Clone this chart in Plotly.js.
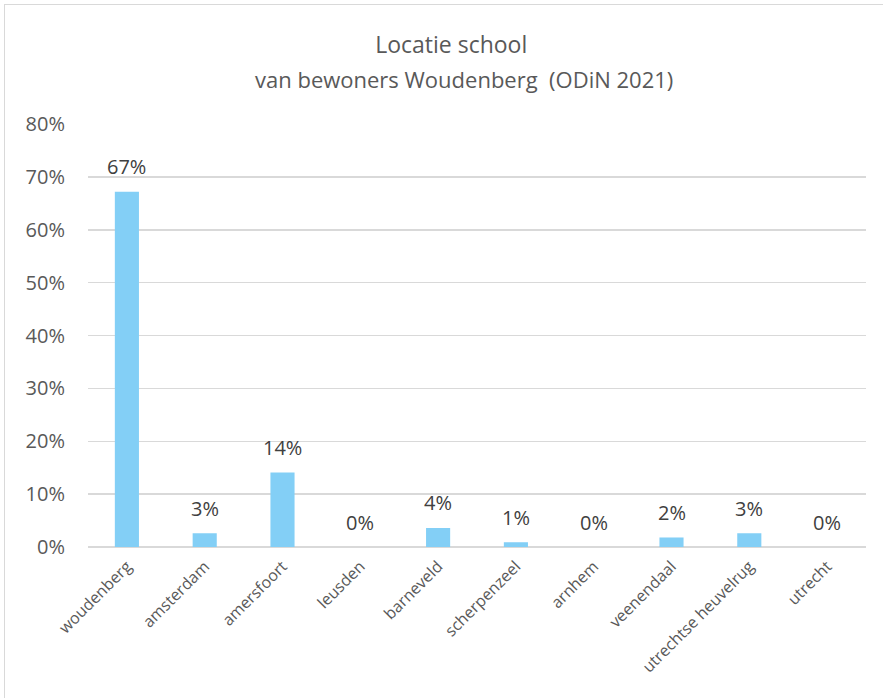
<!DOCTYPE html>
<html>
<head>
<meta charset="utf-8">
<script src="https://cdn.plot.ly/plotly-3.0.1.min.js"></script>
<style>
  html, body { margin: 0; padding: 0; background: #fff; }
  #wrap { position: relative; width: 883px; height: 698px; }
  #chart { position: absolute; left: 0; top: 0; width: 883px; height: 698px; }
  #frame { position: absolute; left: 4px; top: 4px; width: 900px; height: 720px;
           border-left: 1.5px solid #d9d9d9; border-top: 1.5px solid #d9d9d9; pointer-events: none; }
</style>
</head>
<body>
<div id="wrap"><div id="chart"></div><div id="frame"></div></div>
<script>
const titleLine1 = 'Locatie school';
const titleLine2 = 'van bewoners Woudenberg  (ODiN 2021)';
const categories = ['woudenberg', 'amsterdam', 'amersfoort', 'leusden', 'barneveld',
                    'scherpenzeel', 'arnhem', 'veenendaal', 'utrechtse heuvelrug', 'utrecht'];
const shares = [67.2, 2.6, 14.1, 0, 3.6, 0.9, 0, 1.8, 2.6, 0];
const yTickVals = [0, 10, 20, 30, 40, 50, 60, 70, 80];
const yTickText = yTickVals.map(v => v + '%');

const FONT = 'Open Sans, Noto Sans, sans-serif';

const labelAnnotations = categories.map((c, i) => ({
  x: c, y: shares[i], xref: 'x', yref: 'y',
  text: Math.round(shares[i]) + '%',
  showarrow: false, yanchor: 'middle', yshift: 25,
  font: { family: FONT, size: 20, color: '#404040' }
}));

const trace = {
  type: 'bar',
  x: categories,
  y: shares,
  marker: { color: '#83cff6', line: { width: 0 } },
  hoverinfo: 'x+y'
};

const layout = {
  width: 883, height: 698,
  margin: { l: 88, r: 17, t: 124, b: 151 },
  paper_bgcolor: '#ffffff', plot_bgcolor: '#ffffff',
  showlegend: false,
  bargap: 0.69,
  font: { family: FONT, color: '#595959' },
  title: {
    text: titleLine1,
    x: 0.511, xanchor: 'center',
    y: 0.935, yanchor: 'middle', yref: 'container',
    font: { family: FONT, size: 23, color: '#595959' }
  },
  xaxis: {
    type: 'category',
    tickangle: -45,
    tickfont: { family: FONT, size: 16, color: '#595959' },
    showgrid: false, zeroline: false,
    showline: false, ticks: '', ticklabelstandoff: 6
  },
  yaxis: {
    range: [0, 80],
    tickvals: yTickVals, ticktext: yTickText,
    tickfont: { family: FONT, size: 20, color: '#595959' },
    showgrid: true, gridcolor: '#d9d9d9', gridwidth: 1.5,
    zeroline: true, zerolinecolor: '#d9d9d9', zerolinewidth: 1.5,
    showline: false, ticks: '', ticklabelstandoff: 22
  },
  annotations: [
    {
      xref: 'paper', yref: 'paper', x: 0.483, y: (547 - 79) / 423,
      xanchor: 'center', yanchor: 'middle', showarrow: false,
      text: titleLine2,
      font: { family: FONT, size: 22, color: '#595959' }
    }
  ].concat(labelAnnotations)
};

Plotly.newPlot('chart', [trace], layout, { displayModeBar: false, staticPlot: true });
</script>
</body>
</html>
